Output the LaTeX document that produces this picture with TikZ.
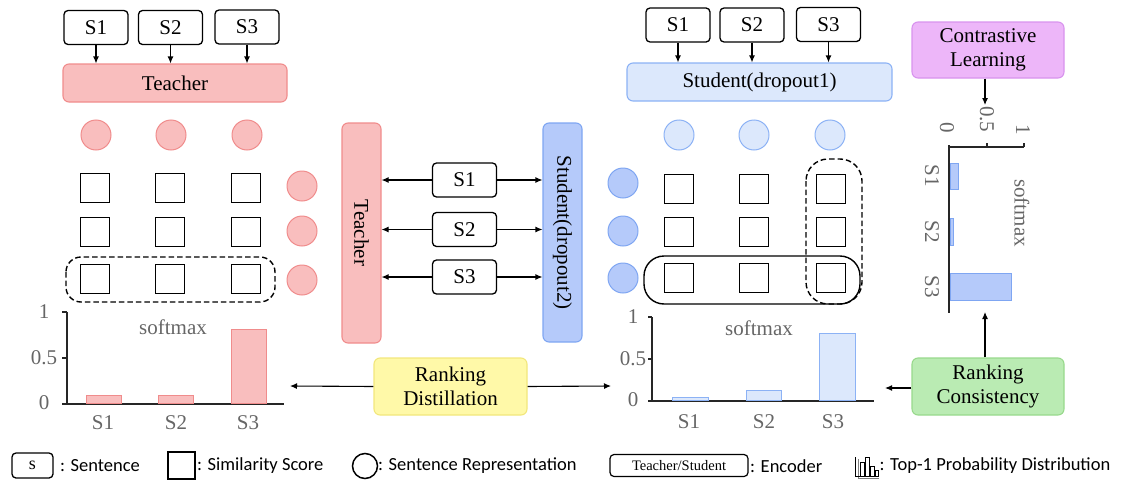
\documentclass[tikz,border=0pt]{standalone}
\usepackage{fontspec}
\setmainfont{Liberation Serif}
\newfontfamily\legendfont{Carlito}
\usetikzlibrary{arrows.meta}
\definecolor{pinkfill}{HTML}{F9BEBE}
\definecolor{pinkline}{HTML}{F08C8C}
\definecolor{lbfill}{HTML}{DCE8FC}
\definecolor{lbline}{HTML}{8CB2F5}
\definecolor{dbfill}{HTML}{B5CAFA}
\definecolor{dbline}{HTML}{7FA6F2}
\definecolor{purfill}{HTML}{EDB6F9}
\definecolor{purline}{HTML}{D893EE}
\definecolor{grnfill}{HTML}{BAEBB3}
\definecolor{grnline}{HTML}{98D98C}
\definecolor{yelfill}{HTML}{FFF9A8}
\definecolor{yelline}{HTML}{F2E77C}
\definecolor{labgray}{HTML}{666666}
\tikzset{
  txt/.style={font=\fontsize{21}{24}\selectfont},
  sbox/.style={draw, rounded corners=4pt, line width=1.3pt, minimum width=64pt, minimum height=34pt, inner sep=0pt, txt},
  sq/.style={draw, line width=1.6pt, minimum size=29pt, inner sep=0pt},
  rcirc/.style={circle, minimum size=30pt, inner sep=0pt, line width=1pt},
  pcirc/.style={rcirc, fill=pinkfill, draw=pinkline},
  lbcirc/.style={rcirc, fill=lbfill, draw=lbline},
  dbcirc/.style={rcirc, fill=dbfill, draw=dbline},
  cbox/.style={rounded corners=6pt, line width=1.1pt, inner sep=0pt, align=center, txt},
  arr/.style={-{Latex[length=7pt,width=6pt]}, line width=1.1pt},
  axis/.style={line width=1.6pt, black!85},
  glab/.style={txt, text=labgray},
  dashbox/.style={line width=1.4pt, dash pattern=on 5.5pt off 3pt},
  leg/.style={font=\legendfont\fontsize{18.5}{20}\selectfont, anchor=west, inner sep=0pt},
}
\begin{document}
\begin{tikzpicture}[x=1pt, y=-1pt]
\useasboundingbox (0,0) rectangle (1126,479);
% ---------------- left: teacher ----------------
\node[sbox] (ts1) at (96,27.5) {S1};
\node[sbox] (ts2) at (170.5,27.5) {S2};
\node[sbox] (ts3) at (247,27) {S3};
\node[cbox, fill=pinkfill, draw=pinkline, minimum width=224pt, minimum height=38pt] (teach) at (175,83) {Teacher};
\foreach \i in {1,2,3} \draw[arr] (ts\i.south) -- (ts\i.south |- teach.north);
\node[pcirc] (tc1) at (96,135) {};
\node[pcirc] (tc2) at (171,135) {};
\node[pcirc] (tc3) at (247,135) {};
\foreach \r/\y in {1/188,2/232,3/279}{
  \node[sq] (lq\r1) at (95,\y) {};
  \node[sq] (lq\r2) at (170,\y) {};
  \node[sq] (lq\r3) at (246,\y) {};
}
\node[pcirc] (lc1) at (302,186) {};
\node[pcirc] (lc2) at (302,231) {};
\node[pcirc] (lc3) at (302,280) {};
\draw[dashbox, rounded corners=15pt] (66,257) rectangle (275,302);
% left chart
\draw[axis] (67,312) -- (67,404);
\draw[axis] (62,404) -- (284,404);
\draw[axis] (62,312) -- (67,312);
\draw[axis] (62,358) -- (67,358);
\node[glab] (ly1) at (44,312) {1};
\node[glab] (ly05) at (44,358) {0.5};
\node[glab] (ly0) at (44,403) {0};
\draw[fill=pinkfill, draw=pinkline, line width=1pt] (86,395) rectangle (121,403);
\draw[fill=pinkfill, draw=pinkline, line width=1pt] (158,395) rectangle (193,403);
\draw[fill=pinkfill, draw=pinkline, line width=1pt] (231,329) rectangle (266,403);
\node[glab] (lx1) at (103,423) {S1};
\node[glab] (lx2) at (176,423) {S2};
\node[glab] (lx3) at (248,423) {S3};
\node[glab] (lsm) at (173,327) {softmax};
% ---------------- middle ----------------
\node[cbox, fill=pinkfill, draw=pinkline, rotate=-90, minimum width=220pt, minimum height=39pt] (vt) at (361.5,233) {Teacher};
\node[cbox, fill=dbfill, draw=dbline, rotate=-90, minimum width=219pt, minimum height=39pt] (vs) at (562.5,232.5) {Student(dropout2)};
\node[sbox] (ms1) at (464.5,180) {S1};
\node[sbox] (ms2) at (464.5,229.5) {S2};
\node[sbox] (ms3) at (464.5,277) {S3};
\foreach \i in {1,2,3}{
  \draw[arr] (ms\i.west) -- (ms\i.west -| vt.north);
  \draw[arr] (ms\i.east) -- (ms\i.east -| vs.south);
}
\node[cbox, fill=yelfill, draw=yelline, minimum width=153pt, minimum height=57pt] (rd) at (450.5,386.5) {Ranking\\Distillation};
\coordinate (rdl) at (290,386);
\coordinate (rdr) at (611,386);
\draw[arr] (rd.west) -- (rdl);
\draw[arr] (rd.east) -- (rdr);
% ---------------- right: student ----------------
\node[sbox] (rs1) at (678,25) {S1};
\node[sbox] (rs2) at (752,25) {S2};
\node[sbox] (rs3) at (828.5,24.5) {S3};
\node[cbox, fill=lbfill, draw=lbline, minimum width=265pt, minimum height=38pt] (stud) at (759.5,82) {Student(dropout1)};
\foreach \i in {1,2,3} \draw[arr] (rs\i.south) -- (rs\i.south |- stud.north);
\node[lbcirc] (sc1) at (679,135) {};
\node[lbcirc] (sc2) at (754,135) {};
\node[lbcirc] (sc3) at (830,135) {};
\foreach \r/\y in {1/189,2/232,3/278}{
  \node[sq] (rq\r1) at (679,\y) {};
  \node[sq] (rq\r2) at (754,\y) {};
  \node[sq] (rq\r3) at (831,\y) {};
}
\node[dbcirc] (bc1) at (623,183) {};
\node[dbcirc] (bc2) at (623,231) {};
\node[dbcirc] (bc3) at (623,278) {};
\draw[line width=1.4pt, rounded corners=20pt] (644,256) rectangle (860,304);
\draw[dashbox, rounded corners=22pt] (806,159) rectangle (862,304);
% right chart
\draw[axis] (652,317) -- (652,401);
\draw[axis] (648,401) -- (874,401);
\draw[axis] (648,317) -- (652,317);
\draw[axis] (648,359) -- (652,359);
\node[glab] (ry1) at (633,317) {1};
\node[glab] (ry05) at (633,359) {0.5};
\node[glab] (ry0) at (633,400) {0};
\draw[fill=lbfill, draw=lbline, line width=1pt] (672,397) rectangle (708,400);
\draw[fill=lbfill, draw=lbline, line width=1pt] (746,390) rectangle (781,400);
\draw[fill=lbfill, draw=lbline, line width=1pt] (819,333) rectangle (855,400);
\node[glab] (rx1) at (689,422) {S1};
\node[glab] (rx2) at (764,422) {S2};
\node[glab] (rx3) at (833,422) {S3};
\node[glab] (rsm) at (759,328) {softmax};
% ---------------- far right ----------------
\node[cbox, fill=purfill, draw=purline, minimum width=152pt, minimum height=56pt] (cl) at (988,50) {Contrastive\\Learning};
\coordinate (clend) at (985,105);
\draw[arr] (cl.south -| clend) -- (clend);
% rotated chart
\draw[axis] (949,145) -- (949,313);
\draw[axis] (949,147) -- (1024,147);
\draw[axis] (987,147) -- (987,143);
\draw[axis] (1024,147) -- (1024,143);
\node[glab, rotate=-90, anchor=east] (vy0) at (947,137) {0};
\node[glab, rotate=-90, anchor=east] (vy05) at (987,136) {0.5};
\node[glab, rotate=-90, anchor=east] (vy1) at (1023,139) {1};
\draw[fill=dbfill, draw=dbline, line width=1pt] (950,163) rectangle (958,189);
\draw[fill=dbfill, draw=dbline, line width=1pt] (950,218) rectangle (953,245);
\draw[fill=dbfill, draw=dbline, line width=1pt] (950,273) rectangle (1011,300);
\node[glab, rotate=-90] (vx1) at (932,176) {S1};
\node[glab, rotate=-90] (vx2) at (932,232) {S2};
\node[glab, rotate=-90] (vx3) at (932,287) {S3};
\node[glab, rotate=-90] (vsm) at (1022,213) {softmax};
\node[cbox, fill=grnfill, draw=grnline, minimum width=152pt, minimum height=57pt] (rc) at (988,386.5) {Ranking\\Consistency};
\coordinate (rcup) at (985,312);
\coordinate (rcl) at (885,388);
\draw[arr] (rc.north -| rcup) -- (rcup);
\draw[arr] (rc.west |- rcl) -- (rcl);
% ---------------- legend ----------------
\node[draw, rounded corners=4pt, line width=1.3pt, minimum width=41pt, minimum height=25pt, inner sep=0pt, font=\fontsize{18}{20}\selectfont] (lgs) at (32.5,465.5) {s};
\node[leg] (lgst) at (60,466) {: Sentence};
\node[draw, line width=1.5pt, minimum size=27pt, inner sep=0pt] (lgq) at (181.5,465.5) {};
\node[leg] (lgqt) at (197,466) {: Similarity Score};
\node[circle, draw, line width=1.5pt, minimum size=25pt, inner sep=0pt] (lgc) at (365,466) {};
\node[leg] (lgct) at (378,466) {: Sentence Representation};
\node[draw, rounded corners=4pt, line width=1.2pt, minimum width=138pt, minimum height=22pt, inner sep=0pt, font=\fontsize{14.5}{16}\selectfont] (lge) at (679,465.5) {Teacher/Student};
\node[leg] (lget) at (750,466) {: Encoder};
% icon
\draw[gray, line width=1pt] (858,459) -- (858,478) -- (879,478);
\draw[line width=0.8pt] (855.5,457) -- (855.5,476.5) -- (878,476.5);
\draw[line width=0.8pt] (860,462) rectangle (864,476);
\draw[line width=0.8pt] (865,457.5) rectangle (869,476);
\draw[line width=0.8pt] (870,466) rectangle (874,476);
\draw[line width=0.8pt] (875,470) rectangle (878,476);
\node[leg] (lgpt) at (879.5,466) {: Top-1 Probability Distribution};
\end{tikzpicture}
\end{document}
